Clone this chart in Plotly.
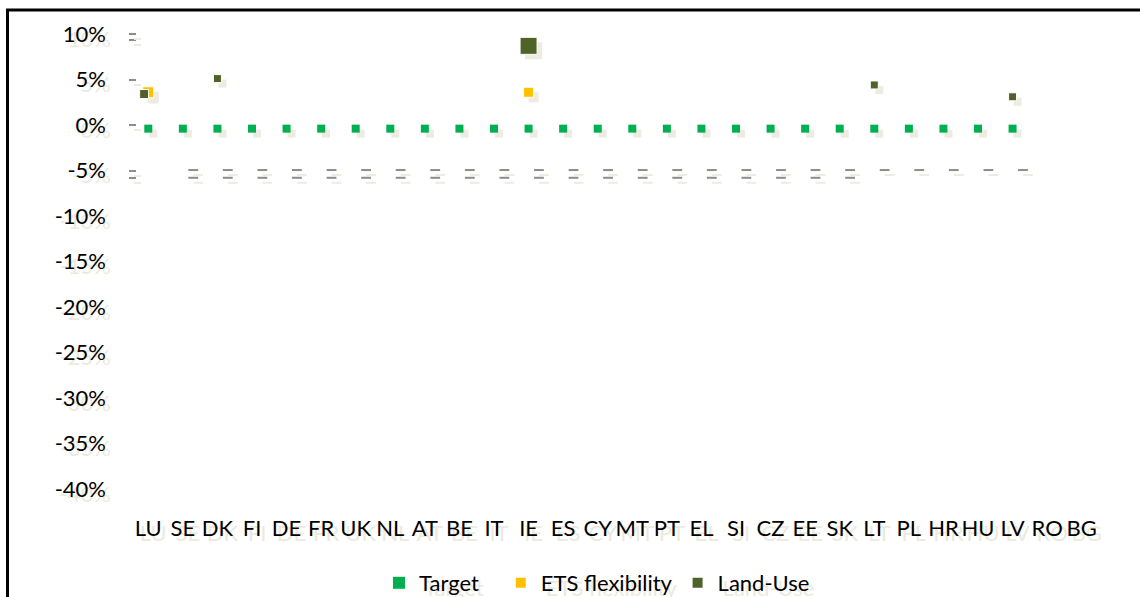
import plotly.graph_objects as go

# Member states, ordered as on the category axis
countries = ["LU", "SE", "DK", "FI", "DE", "FR", "UK", "NL", "AT", "BE", "IT", "IE", "ES", "CY",
             "MT", "PT", "EL", "SI", "CZ", "EE", "SK", "LT", "PL", "HR", "HU", "LV", "RO", "BG"]

# Values in % (None = nothing shown for that country)
target = [-0.4, -0.4, -0.4, -0.4, -0.4, -0.4, -0.4, -0.4, -0.4, -0.4, -0.4, -0.4, -0.4, -0.4,
          -0.4, -0.4, -0.4, -0.4, -0.4, -0.4, -0.4, -0.4, -0.4, -0.4, -0.4, -0.4, None, None]
ets_flex = [3.6, None, None, None, None, None, None, None, None, None, None, 3.6, None, None,
            None, None, None, None, None, None, None, None, None, None, None, None, None, None]
land_use = [3.4, None, 5.1, None, None, None, None, None, None, None, None, 8.7, None, None,
            None, None, None, None, None, None, None, 4.4, None, None, None, 3.1, None, None]

# Grey dash markers sitting on the -5% level
floor_upper = [None, -4.95, -4.95, -4.95, -4.95, -4.95, -4.95, -4.95, -4.95, -4.95, -4.95, -4.95,
               -4.95, -4.95, -4.95, -4.95, -4.95, -4.95, -4.95, -4.95, -4.95, -4.95, -4.95, -4.95,
               -4.95, -4.95, None, None]
floor_lower = [None, -5.8, -5.8, -5.8, -5.8, -5.8, -5.8, -5.8, -5.8, -5.8, -5.8, -5.8, -5.8, -5.8,
               -5.8, -5.8, -5.8, -5.8, -5.8, -5.8, -5.8, None, None, None, None, None, None, None]

y_ticks = [10, 5, 0, -5, -10, -15, -20, -25, -30, -35, -40]
y_tick_text = ["10%", "5%", "0%", "-5%", "-10%", "-15%", "-20%", "-25%", "-30%", "-35%", "-40%"]
axis_tick_marks = [10, 9.3, 5, 0, -5, -5.8]

# ---- page geometry -------------------------------------------------------
W, H = 1140, 597
M_L, M_R, M_T, M_B = 131, 41, 34, 108
PLOT_W = W - M_L - M_R
PLOT_H = H - M_T - M_B
Y_MIN, Y_MAX = -40, 10
X_MIN, X_MAX = -0.5, len(countries) - 0.5

PX_X = (X_MAX - X_MIN) / PLOT_W      # data units per pixel (x)
PX_Y = (Y_MAX - Y_MIN) / PLOT_H      # data units per pixel (y)
SH_DX, SH_DY = 5, 5                  # drop-shadow offset in pixels

FONT = "Lato, sans-serif"
FONT_SIZE = 22
TEXT_SHADOW = "5px 5px 0px #ECE9DD"
SHADOW = "#EEEBE1"

GREEN = "#00B050"
YELLOW = "#FFC000"
OLIVE = "#4F6228"
GREY = "#8C8C8C"

idx = list(range(len(countries)))
land_use_size = [17 if c == "IE" else 9 if c == "LU" else 8 for c in countries]
ets_size = [11 if c == "LU" else 10 if c == "IE" else 9 for c in countries]


def shifted(vals, dx_px=SH_DX, dy_px=SH_DY, x_off=0.0):
    xs, ys = [], []
    for i, v in zip(idx, vals):
        xs.append(i + x_off + dx_px * PX_X)
        ys.append(None if v is None else v - dy_px * PX_Y)
    return xs, ys


fig = go.Figure()

# drop shadows underneath every mark
for vals, size, sym, off in [
    (floor_upper, 7, "line-ew", 0.3),
    (floor_lower, 7, "line-ew", 0.3),
    (target, 8, "square", 0.0),
    (ets_flex, ets_size, "square", 0.0),
    (land_use, land_use_size, "square", 0.0),
]:
    sx, sy = shifted(vals, x_off=off)
    line = dict(width=2, color=SHADOW) if sym == "line-ew" else dict(width=0)
    fig.add_trace(go.Scatter(
        x=sx, y=sy, mode="markers", showlegend=False, hoverinfo="skip",
        marker=dict(symbol=sym, size=size, color=SHADOW, opacity=1, line=line),
    ))

# grey dashes
for vals in (floor_upper, floor_lower):
    fig.add_trace(go.Scatter(
        x=[i + 0.3 for i in idx], y=vals, mode="markers", showlegend=False, hoverinfo="skip",
        marker=dict(symbol="line-ew", size=7, color=GREY, opacity=1,
                    line=dict(width=2, color=GREY)),
    ))

fig.add_trace(go.Scatter(x=idx, y=target, name="Target\u00a0\u00a0\u00a0", mode="markers",
                         marker=dict(symbol="square", size=8, color=GREEN, opacity=1)))
fig.add_trace(go.Scatter(x=idx, y=ets_flex, name="ETS flexibility", mode="markers",
                         marker=dict(symbol="square", size=ets_size, color=YELLOW, opacity=1)))
# land use drawn slightly left of the category centre so the LU pair stays readable
fig.add_trace(go.Scatter(x=[i - 0.12 if c == "LU" else i for i, c in zip(idx, countries)],
                         y=land_use, name="Land-Use", mode="markers",
                         marker=dict(symbol="square", size=land_use_size, color=OLIVE,
                                     opacity=1)))

# empty traces so the tick-mark overlay axes get drawn
for ax in ("y2", "y3"):
    fig.add_trace(go.Scatter(x=[None], y=[None], yaxis=ax, showlegend=False,
                             hoverinfo="skip", mode="markers"))

tick_font = dict(family=FONT, size=FONT_SIZE, color="#000000", shadow=TEXT_SHADOW)

fig.update_layout(
    width=W, height=H,
    margin=dict(l=M_L, r=M_R, t=M_T, b=M_B, pad=0, autoexpand=False),
    paper_bgcolor="white", plot_bgcolor="white",
    font=dict(family=FONT, size=FONT_SIZE, color="#000000"),
    xaxis=dict(range=[X_MIN, X_MAX], tickmode="array", tickvals=idx, ticktext=countries,
               tickangle=0, automargin=False,
               showgrid=False, zeroline=False, showline=False, ticks="",
               tickfont=tick_font, ticklabelstandoff=24, fixedrange=True),
    yaxis=dict(range=[Y_MIN, Y_MAX], tickmode="array", tickvals=y_ticks, ticktext=y_tick_text,
               automargin=False,
               showgrid=False, zeroline=False, showline=False, ticks="",
               tickfont=tick_font, ticklabelstandoff=24, fixedrange=True),
    # grey axis tick marks (and their shadows) on the upper part of the value axis
    yaxis2=dict(range=[Y_MIN, Y_MAX], overlaying="y", anchor="free", position=5 / PLOT_W,
                tickmode="array", tickvals=axis_tick_marks, ticks="outside",
                ticklen=7, tickwidth=2, tickcolor=GREY, showticklabels=False, automargin=False,
                showgrid=False, zeroline=False, showline=False, fixedrange=True),
    yaxis3=dict(range=[Y_MIN + SH_DY * PX_Y, Y_MAX + SH_DY * PX_Y], overlaying="y",
                anchor="free", position=10 / PLOT_W,
                tickmode="array", tickvals=axis_tick_marks, ticks="outside",
                ticklen=7, tickwidth=2, tickcolor=SHADOW, showticklabels=False,
                automargin=False,
                showgrid=False, zeroline=False, showline=False, fixedrange=True),
    legend=dict(orientation="h", x=(597 - M_L) / PLOT_W, xanchor="center",
                y=-(583 - M_T - PLOT_H) / PLOT_H, yanchor="middle",
                font=dict(family=FONT, size=FONT_SIZE, color="#000000", shadow=TEXT_SHADOW),
                bgcolor="rgba(0,0,0,0)", itemsizing="constant"),
    shapes=[dict(type="rect", xref="paper", yref="paper",
                 x0=(7.5 - M_L) / PLOT_W, x1=2.0,
                 y0=-2.0, y1=1 + (M_T - 10) / PLOT_H,
                 line=dict(color="#000000", width=3), fillcolor="rgba(0,0,0,0)",
                 layer="below")],
)

fig.write_html("out.html", config={"displayModeBar": False})
